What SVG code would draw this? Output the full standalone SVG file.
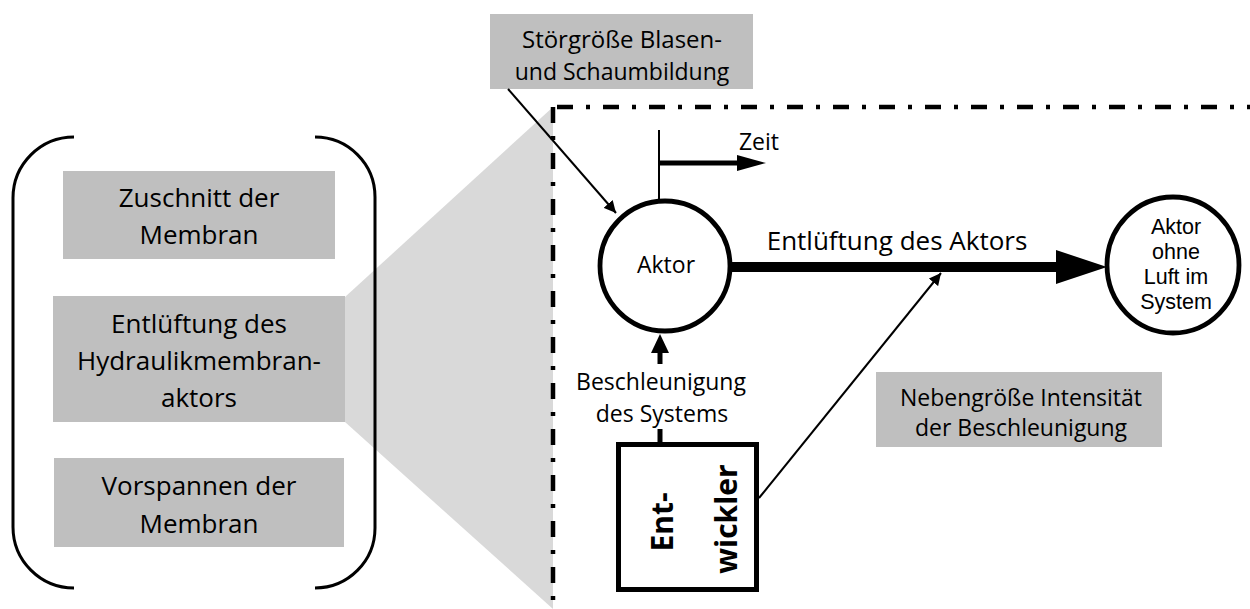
<svg xmlns="http://www.w3.org/2000/svg" width="1250" height="609" viewBox="0 0 1250 609">
  <style>
    .box { fill: #bfbfbf; }
    .t { font-family: "Open Sans", "Liberation Sans", sans-serif; fill: #000; text-anchor: middle; }
    .t26 { font-size: 26px; }
    .t23 { font-size: 23px; }
    .small { font-family: "Liberation Sans", Arial, sans-serif; font-size: 21.5px; }
    .bold { font-weight: bold; font-size: 30px; }
    .ring { fill: #fff; stroke: #000; stroke-width: 4.8; }
    .frame { fill: none; stroke: #000; stroke-width: 4.5; stroke-dasharray: 16 13 4 13; }
    .paren { fill: none; stroke: #000; stroke-width: 3; }
    .thin { fill: none; stroke: #000; stroke-width: 2; }
    .thick { fill: none; stroke: #000; stroke-width: 5; }
  </style>
  <defs>
    <marker id="tip" viewBox="0 0 10 10" refX="10" refY="5" markerWidth="6" markerHeight="6" markerUnits="strokeWidth" orient="auto">
      <path d="M0,0 L10,5 L0,10 z" fill="#000"/>
    </marker>
  </defs>

  <rect width="1250" height="609" fill="#fff"/>

  <!-- zoom wedge from the process step to the detail view -->
  <polygon points="345,297 553,107 553,609 345,422" fill="#d9d9d9"/>

  <!-- process steps in brackets -->
  <g id="bracket">
    <path class="paren" d="M74,137 A61,61 0 0 0 13,198 V527 A61,61 0 0 0 74,588"/>
    <path class="paren" d="M315,137 A60,60 0 0 1 375,197 V528 A60,60 0 0 1 315,588"/>
  </g>
  <g id="step-zuschnitt">
    <rect class="box" x="63" y="171" width="272" height="88"/>
    <text class="t t26" x="199" y="207">Zuschnitt der</text>
    <text class="t t26" x="199" y="244">Membran</text>
  </g>
  <g id="step-entlueftung">
    <rect class="box" x="53" y="296" width="292" height="126"/>
    <text class="t t26" x="199" y="333">Entlüftung des</text>
    <text class="t t26" x="199" y="370">Hydraulikmembran-</text>
    <text class="t t26" x="199" y="407">aktors</text>
  </g>
  <g id="step-vorspannen">
    <rect class="box" x="54" y="458" width="290" height="89"/>
    <text class="t t26" x="199" y="495">Vorspannen der</text>
    <text class="t t26" x="199" y="533">Membran</text>
  </g>

  <!-- system boundary -->
  <g id="boundary">
    <line class="frame" x1="553" y1="107" x2="553" y2="609"/>
    <line class="frame" x1="557" y1="107" x2="1250" y2="107"/>
  </g>

  <g id="stoergroesse">
    <rect class="box" x="490" y="14" width="263" height="75"/>
    <text class="t t23" x="622" y="48" textLength="200" lengthAdjust="spacingAndGlyphs">Störgröße Blasen-</text>
    <text class="t t23" x="622" y="80">und Schaumbildung</text>
  </g>

  <g id="aktor">
    <circle class="ring" cx="665" cy="266" r="65"/>
    <text class="t t23" x="666" y="273">Aktor</text>
  </g>

  <g id="aktor-ohne-luft">
    <ellipse class="ring" cx="1173" cy="265" rx="66" ry="68"/>
    <text class="t small" x="1176" y="234">Aktor</text>
    <text class="t small" x="1176" y="259">ohne</text>
    <text class="t small" x="1176" y="284">Luft im</text>
    <text class="t small" x="1176" y="309">System</text>
  </g>

  <g id="entwickler">
    <rect x="618.5" y="444.5" width="138" height="145" fill="#fff" stroke="#000" stroke-width="5"/>
    <text class="t bold" transform="translate(673,522) rotate(-90)">Ent-</text>
    <text class="t bold" transform="translate(737,519) rotate(-90)">wickler</text>
  </g>

  <g id="nebengroesse">
    <rect class="box" x="876" y="372" width="286" height="75"/>
    <text class="t t23" x="1021" y="406">Nebengröße Intensität</text>
    <text class="t t23" x="1021" y="436">der Beschleunigung</text>
  </g>

  <!-- connectors and their labels -->
  <g id="connectors">
    <!-- disturbance acting on the actuator -->
    <line class="thin" x1="508" y1="89" x2="616" y2="213" marker-end="url(#tip)"/>

    <!-- time axis -->
    <line class="thin" x1="659" y1="130" x2="659" y2="199"/>
    <line class="thick" x1="659" y1="163" x2="738" y2="163"/>
    <polygon points="737,155 766,163 737,171" fill="#000"/>
    <text class="t t23" x="759" y="150">Zeit</text>

    <!-- main process arrow -->
    <rect x="731" y="262" width="327" height="10" fill="#000"/>
    <polygon points="1056,250 1107,267 1056,284" fill="#000"/>
    <text class="t t26" x="897" y="250">Entlüftung des Aktors</text>

    <!-- acceleration from the developer -->
    <line class="thick" x1="660" y1="364" x2="660" y2="350"/>
    <polygon points="651,353 660,334 669,353" fill="#000"/>
    <line class="thick" x1="660" y1="429" x2="660" y2="446"/>
    <text class="t t23" x="661" y="390">Beschleunigung</text>
    <text class="t t23" x="662" y="422">des Systems</text>

    <!-- secondary influence on the process -->
    <line class="thin" x1="759" y1="498" x2="941" y2="273" marker-end="url(#tip)"/>
  </g>
</svg>
